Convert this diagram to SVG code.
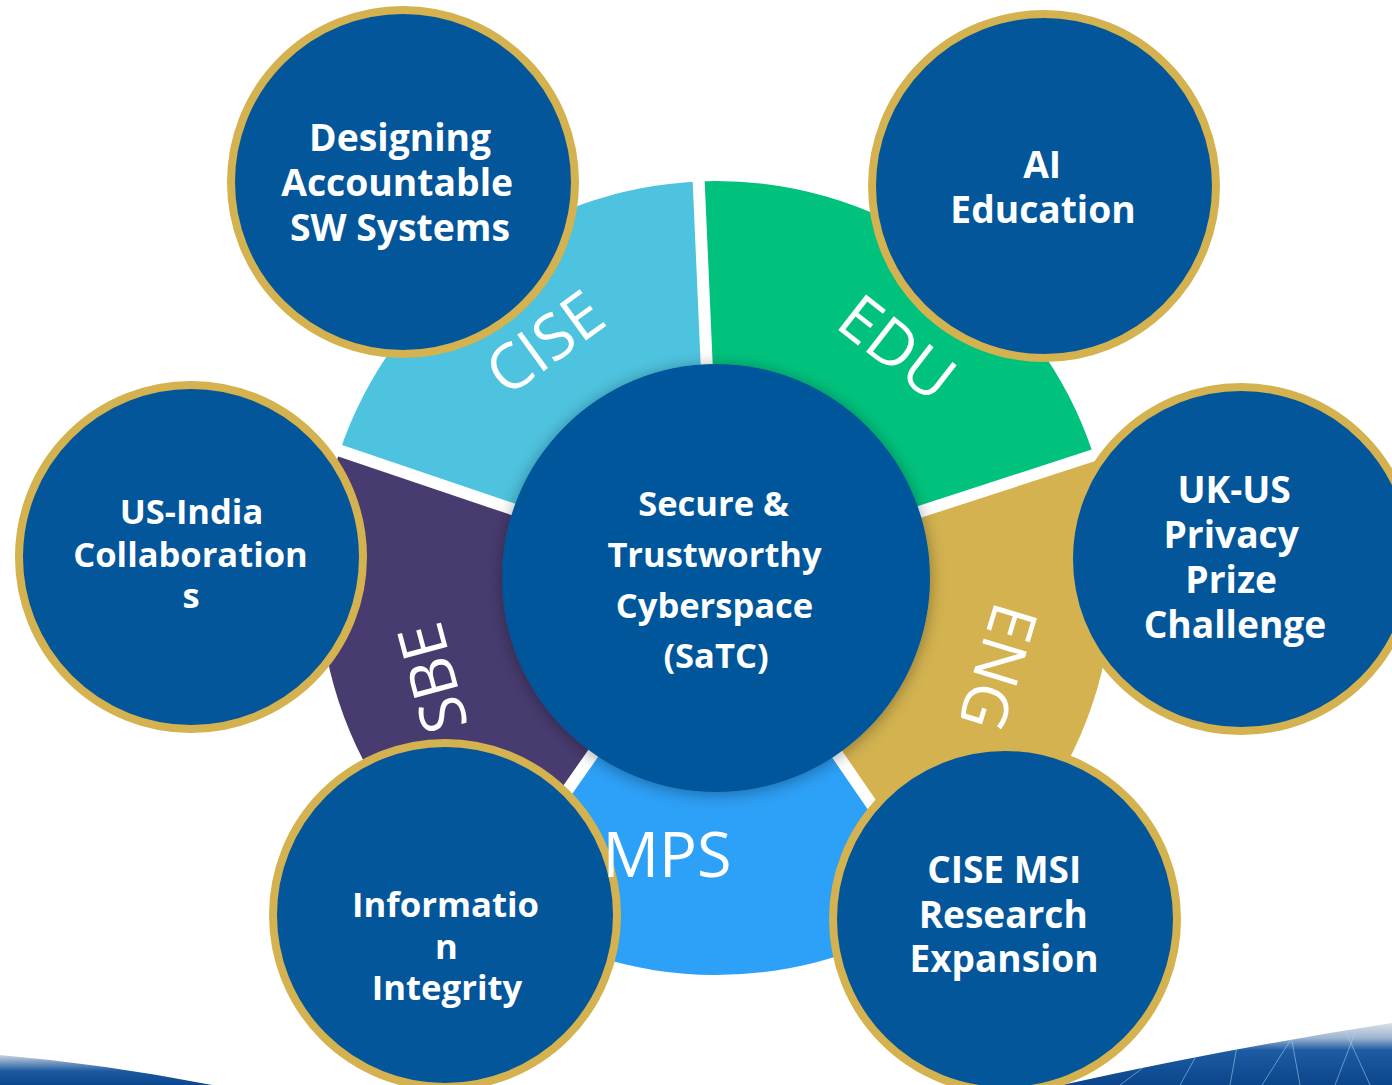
<svg xmlns="http://www.w3.org/2000/svg" width="1392" height="1085" viewBox="0 0 1392 1085">
  <defs>
    <style>
      .hub { fill: #03569A; }
      .topic circle { fill: #03569A; stroke: #D3B24F; stroke-width: 8; }
      .label { font-family: "Open Sans", "Noto Sans", "Liberation Sans", sans-serif; font-weight: 700; fill: #FFFFFF; text-anchor: middle; }
      .seg-label { font-family: "Open Sans", "Noto Sans", "Liberation Sans", sans-serif; font-weight: 400; fill: #FFFFFF; text-anchor: middle; font-size: 63px; }
      .divider { stroke: #FFFFFF; stroke-width: 12; }
    </style>
    <filter id="halo" x="-20%" y="-20%" width="140%" height="140%">
      <feDropShadow dx="0" dy="2" stdDeviation="8" flood-color="#000000" flood-opacity="0.35"/>
    </filter>
    <linearGradient id="swooshLeft" x1="0" y1="1054" x2="0" y2="1085" gradientUnits="userSpaceOnUse">
      <stop offset="0" stop-color="#D5DCE4"/>
      <stop offset="0.3" stop-color="#6F93BE"/>
      <stop offset="0.55" stop-color="#1C5AA0"/>
      <stop offset="1" stop-color="#0B478E"/>
    </linearGradient>
    <linearGradient id="swooshRight" x1="0" y1="1022" x2="0" y2="1085" gradientUnits="userSpaceOnUse">
      <stop offset="0" stop-color="#DCE2E9"/>
      <stop offset="0.25" stop-color="#9FB6D1"/>
      <stop offset="0.45" stop-color="#1D5BA2"/>
      <stop offset="1" stop-color="#0B468C"/>
    </linearGradient>
    <clipPath id="clipRight">
      <path d="M1392,1023 Q1230,1048 1062,1085 L1392,1085 Z"/>
    </clipPath>
  </defs>

  <rect x="0" y="0" width="1392" height="1085" fill="#FFFFFF"/>

  <!-- bottom banner swooshes -->
  <g id="banner">
    <path d="M0,1055 Q105,1064 212,1085 L0,1085 Z" fill="url(#swooshLeft)"/>
    <path d="M1392,1023 Q1230,1048 1062,1085 L1392,1085 Z" fill="url(#swooshRight)"/>
    <g clip-path="url(#clipRight)" stroke="#A9D4F5" stroke-width="1" opacity="0.55">
      <line x1="1180" y1="1085" x2="1205" y2="1040"/>
      <line x1="1230" y1="1085" x2="1240" y2="1030"/>
      <line x1="1262" y1="1085" x2="1300" y2="1025"/>
      <line x1="1300" y1="1085" x2="1290" y2="1030"/>
      <line x1="1335" y1="1085" x2="1360" y2="1020"/>
      <line x1="1370" y1="1085" x2="1345" y2="1030"/>
      <line x1="1120" y1="1085" x2="1160" y2="1055"/>
    </g>
  </g>

  <!-- ring segments, centre (716,578), outer radius 397 -->
  <g id="seg-cise">
    <path d="M339.96,450.71 A397,397 0 0 1 698.68,181.38 L707.71,388.18 A190,190 0 0 0 536.03,517.08 Z" fill="#4EC3DF"/>
  </g>
  <g id="seg-edu">
    <path d="M698.68,181.38 A397,397 0 0 1 1093.57,455.32 L896.70,519.29 A190,190 0 0 0 707.71,388.18 Z" fill="#01C27D"/>
  </g>
  <g id="seg-eng">
    <path d="M1093.57,455.32 A397,397 0 0 1 940.86,905.18 L823.62,734.58 A190,190 0 0 0 896.70,519.29 Z" fill="#D3B24F"/>
  </g>
  <g id="seg-mps">
    <path d="M940.86,905.18 A397,397 0 0 1 488.29,903.20 L607.02,733.64 A190,190 0 0 0 823.62,734.58 Z" fill="#2DA0F7"/>
  </g>
  <g id="seg-sbe">
    <path d="M488.29,903.20 A397,397 0 0 1 339.96,450.71 L536.03,517.08 A190,190 0 0 0 607.02,733.64 Z" fill="#483B6F"/>
  </g>

  <!-- white gaps between segments -->
  <g id="dividers">
    <line class="divider" x1="716" y1="578" x2="698.12" y2="168.39"/>
    <line class="divider" x1="716" y1="578" x2="1105.93" y2="451.30"/>
    <line class="divider" x1="716" y1="578" x2="948.23" y2="915.89"/>
    <line class="divider" x1="716" y1="578" x2="480.83" y2="913.85"/>
    <line class="divider" x1="716" y1="578" x2="327.64" y2="446.55"/>
  </g>

  <!-- hub -->
  <g id="hub">
    <circle class="hub" cx="716" cy="578" r="214" filter="url(#halo)"/>
    <text class="label" font-size="34.5">
      <tspan x="718" y="516">Secure &amp;</tspan>
      <tspan x="719" y="567">Trustworthy</tspan>
      <tspan x="719" y="618">Cyberspace</tspan>
      <tspan x="716" y="668">(SaTC)</tspan>
    </text>
  </g>

  <!-- program circles -->
  <g id="topic-accountable" class="topic">
    <circle cx="403" cy="182" r="172"/>
    <text class="label" font-size="37.3">
      <tspan x="405" y="151">Designing</tspan>
      <tspan x="402" y="196">Accountable</tspan>
      <tspan x="400" y="241">SW Systems</tspan>
    </text>
  </g>
  <g id="topic-ai-education" class="topic">
    <circle cx="1044" cy="186" r="172"/>
    <text class="label" font-size="37.2">
      <tspan x="1047" y="178">AI</tspan>
      <tspan x="1043" y="223">Education</tspan>
    </text>
  </g>
  <g id="topic-us-india" class="topic">
    <circle cx="191" cy="557" r="172"/>
    <text class="label" font-size="34.5">
      <tspan x="196" y="524">US-India</tspan>
      <tspan x="195" y="567">Collaboration</tspan>
      <tspan x="191" y="608">s</tspan>
    </text>
  </g>
  <g id="topic-uk-us" class="topic">
    <circle cx="1241" cy="559" r="172"/>
    <text class="label" font-size="37.2">
      <tspan x="1239" y="503">UK-US</tspan>
      <tspan x="1236" y="548">Privacy</tspan>
      <tspan x="1236" y="593">Prize</tspan>
      <tspan x="1235" y="638">Challenge</tspan>
    </text>
  </g>
  <g id="topic-info-integrity" class="topic">
    <circle cx="445" cy="915" r="172"/>
    <text class="label" font-size="34.7">
      <tspan x="450" y="917">Informatio</tspan>
      <tspan x="451" y="959">n</tspan>
      <tspan x="447" y="1000">Integrity</tspan>
    </text>
  </g>
  <g id="topic-msi" class="topic">
    <circle cx="1005" cy="919" r="172"/>
    <text class="label" font-size="37">
      <tspan x="1009" y="883">CISE MSI</tspan>
      <tspan x="1008" y="928">Research</tspan>
      <tspan x="1004" y="972">Expansion</tspan>
    </text>
  </g>

  <!-- directorate labels along the ring -->
  <g id="ring-labels">
    <text class="seg-label" transform="translate(545,343) rotate(-36)" y="22">CISE</text>
    <text class="seg-label" transform="translate(897,348) rotate(38)" y="22">EDU</text>
    <text class="seg-label" transform="translate(998,667) rotate(107)" y="22">ENG</text>
    <text class="seg-label" transform="translate(433,678) rotate(-105)" y="22">SBE</text>
    <text class="seg-label" x="667" y="877">MPS</text>
  </g>
</svg>
